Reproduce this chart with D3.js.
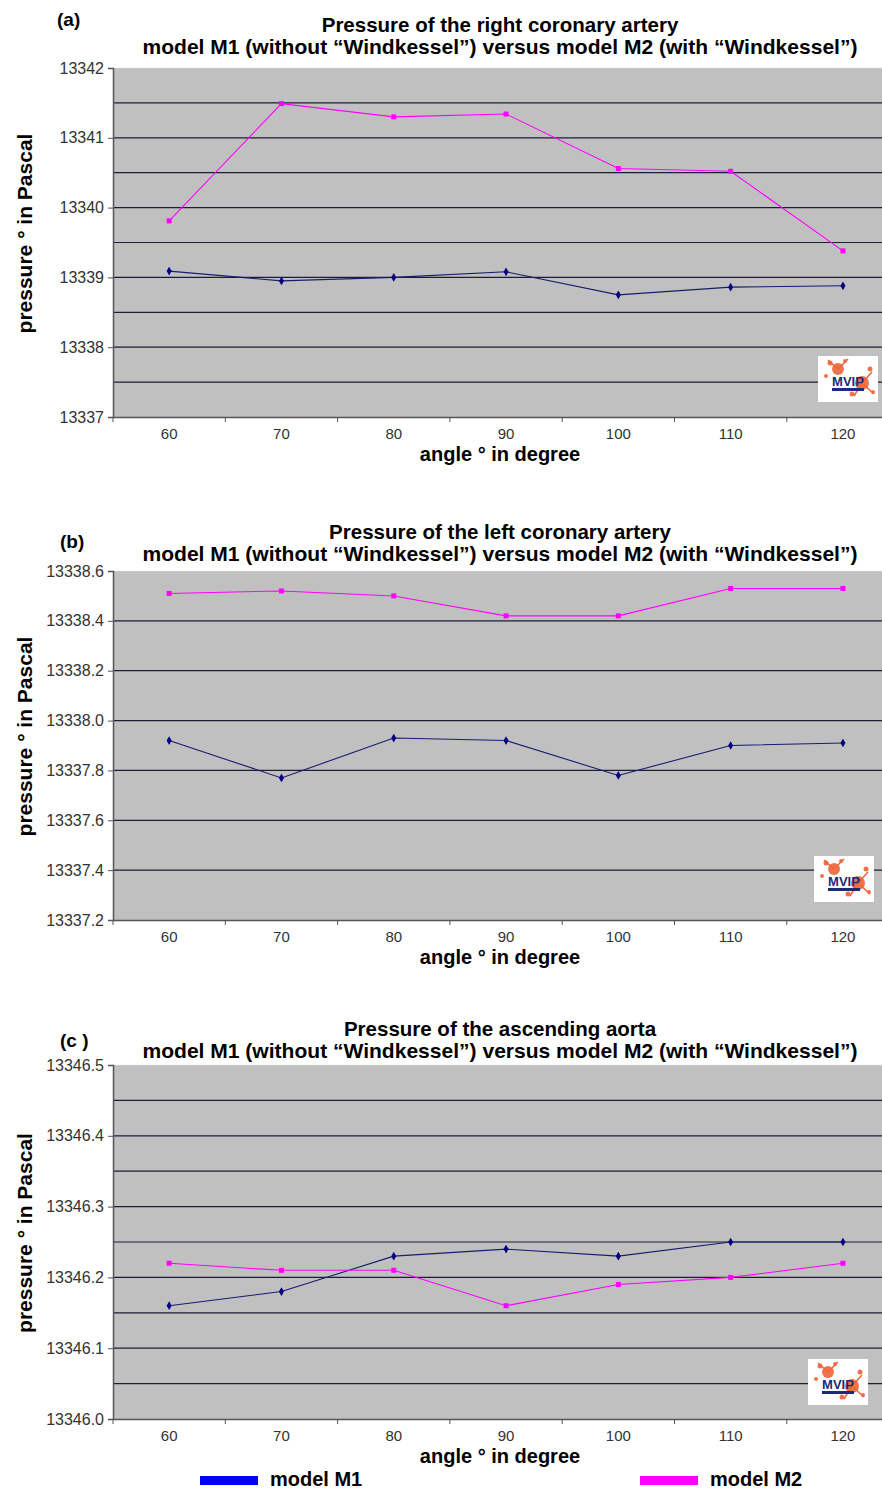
<!DOCTYPE html>
<html>
<head>
<meta charset="utf-8">
<script src="https://cdn.jsdelivr.net/npm/d3@7"></script>
<style>
  body { margin: 0; background: #fff; }
  svg { display: block; font-family: "Liberation Sans", Arial, sans-serif; }
</style>
</head>
<body>
<div id="chart"></div>
<script>
// angles on the category axis
const angles = ["60", "70", "80", "90", "100", "110", "120"];

// (a) right coronary artery
const rightM1 = [13339.09, 13338.95, 13339.00, 13339.08, 13338.75, 13338.86, 13338.88];
const rightM2 = [13339.81, 13341.49, 13341.30, 13341.34, 13340.56, 13340.52, 13339.38];

// (b) left coronary artery
const leftM1 = [13337.92, 13337.77, 13337.93, 13337.92, 13337.78, 13337.90, 13337.91];
const leftM2 = [13338.51, 13338.52, 13338.50, 13338.42, 13338.42, 13338.53, 13338.53];

// (c) ascending aorta
const aortaM1 = [13346.16, 13346.18, 13346.23, 13346.24, 13346.23, 13346.25, 13346.25];
const aortaM2 = [13346.22, 13346.21, 13346.21, 13346.16, 13346.19, 13346.20, 13346.22];

const rightTicks = [13337, 13338, 13339, 13340, 13341, 13342];
const leftTicks = [13337.2, 13337.4, 13337.6, 13337.8, 13338.0, 13338.2, 13338.4, 13338.6];
const aortaTicks = [13346.0, 13346.1, 13346.2, 13346.3, 13346.4, 13346.5];

const subtitle = "model M1 (without \u201cWindkessel\u201d) versus model M2 (with \u201cWindkessel\u201d)";

const width = 882, height = 1489;
const svg = d3.select("#chart").append("svg")
    .attr("width", width)
    .attr("height", height);

const left = 113, bandW = 112.3;
const x = d3.scaleBand().domain(angles).range([left, left + bandW * angles.length]);

function drawPanel(p) {
    const g = svg.append("g");
    const y = d3.scaleLinear().domain(p.domain).range([p.bottom, p.top]);
    const plotRight = width;

    // letter and titles
    g.append("text").attr("x", p.letterX).attr("y", p.letterY)
        .attr("font-size", 19).attr("font-weight", "bold").text(p.letter);
    g.append("text").attr("x", 500).attr("y", p.titleY)
        .attr("text-anchor", "middle").attr("font-size", 20.5).attr("font-weight", "bold")
        .text(p.title);
    g.append("text").attr("x", 500).attr("y", p.titleY + 22)
        .attr("text-anchor", "middle").attr("font-size", 20.5).attr("font-weight", "bold")
        .attr("textLength", 715).attr("lengthAdjust", "spacingAndGlyphs")
        .text(subtitle);

    // plot background
    g.append("rect").attr("x", left).attr("y", p.top)
        .attr("width", plotRight - left).attr("height", p.bottom - p.top)
        .attr("fill", "#c0c0c0");
    g.append("line").attr("x1", left).attr("x2", plotRight)
        .attr("y1", p.top).attr("y2", p.top)
        .attr("stroke", "#e6e6e6").attr("stroke-dasharray", "2,2");

    // gridlines
    g.selectAll(".grid").data(p.grid).enter().append("line")
        .attr("x1", left).attr("x2", plotRight)
        .attr("y1", d => y(d)).attr("y2", d => y(d))
        .attr("stroke", "#1c1c38").attr("stroke-width", 1.2);

    // axes
    const yAxis = d3.axisLeft(y).tickValues(p.ticks).tickSize(5).tickPadding(4)
        .tickFormat(d3.format(p.fmt));
    const ya = g.append("g").attr("transform", `translate(${left},0)`).call(yAxis);
    ya.select(".domain").attr("stroke", "#555").attr("stroke-width", 1.5);
    ya.selectAll(".tick line").attr("stroke", "#555");
    ya.selectAll("text").attr("font-size", 16).attr("fill", "#333")
        .attr("font-family", "'Liberation Sans', Arial, sans-serif");

    const xAxis = d3.axisBottom(x).tickSize(0).tickPadding(11);
    const xa = g.append("g").attr("transform", `translate(0,${p.bottom})`).call(xAxis);
    xa.select(".domain").attr("stroke", "#555").attr("stroke-width", 1.5);
    xa.selectAll("text").attr("font-size", 15).attr("fill", "#333")
        .attr("font-family", "'Liberation Sans', Arial, sans-serif");
    g.selectAll(".xt").data(d3.range(angles.length)).enter().append("line")
        .attr("x1", i => left + bandW * i).attr("x2", i => left + bandW * i)
        .attr("y1", p.bottom).attr("y2", p.bottom + 5)
        .attr("stroke", "#555");

    // axis titles
    g.append("text").attr("x", 500).attr("y", p.bottom + 44)
        .attr("text-anchor", "middle").attr("font-size", 20).attr("font-weight", "bold")
        .text("angle \u00b0 in degree");
    const cy = (p.top + p.bottom) / 2 - 9;
    g.append("text").attr("transform", `translate(32,${cy}) rotate(-90)`)
        .attr("text-anchor", "middle").attr("font-size", 21).attr("font-weight", "bold")
        .text("pressure \u00b0 in Pascal");

    // series
    const cx = i => x(angles[i]) + x.bandwidth() / 2;
    const line = d3.line().x((d, i) => cx(i)).y(d => y(d));
    g.append("path").datum(p.m1).attr("d", line)
        .attr("fill", "none").attr("stroke", "#1a1a70").attr("stroke-width", 1.1);
    g.append("path").datum(p.m2).attr("d", line)
        .attr("fill", "none").attr("stroke", "#ff00ff").attr("stroke-width", 1.1);
    g.selectAll(".m1").data(p.m1).enter().append("path")
        .attr("d", d3.symbol(d3.symbolDiamond, 22))
        .attr("transform", (d, i) => `translate(${cx(i)},${y(d)})`)
        .attr("fill", "#000080");
    g.selectAll(".m2").data(p.m2).enter().append("rect")
        .attr("x", (d, i) => cx(i) - 2.5).attr("y", d => y(d) - 2.5)
        .attr("width", 5).attr("height", 5).attr("fill", "#ff00ff");

    // logo
    const lg = g.append("g").attr("transform", `translate(${p.logoX},${p.logoY})`);
    lg.append("rect").attr("width", 60).attr("height", 46).attr("fill", "#fff");
    const splat = [[20, 13, 6], [44, 27, 7], [12, 7, 2.5], [27, 5, 2], [52, 13, 2.5],
                   [34, 38, 2.5], [8, 20, 2], [55, 36, 2]];
    lg.selectAll("circle").data(splat).enter().append("circle")
        .attr("cx", d => d[0]).attr("cy", d => d[1]).attr("r", d => d[2])
        .attr("fill", "#f0643a").attr("opacity", 0.9);
    lg.append("path").attr("d", "M20,13 L10,4 M20,13 L30,3 M44,27 L54,16 M44,27 L56,38 M44,27 L36,40")
        .attr("stroke", "#f0643a").attr("stroke-width", 1.5);
    lg.append("text").attr("x", 30).attr("y", 30).attr("text-anchor", "middle")
        .attr("font-size", 13).attr("font-weight", "bold").attr("fill", "#1b2a7a")
        .text("MVIP");
    lg.append("rect").attr("x", 14).attr("y", 32).attr("width", 32).attr("height", 3)
        .attr("fill", "#1b2a7a");
}

drawPanel({
    letter: "(a)", letterX: 57, letterY: 26, titleY: 32, title: "Pressure of the right coronary artery",
    top: 68, bottom: 417, domain: [13337, 13342], ticks: rightTicks, fmt: "d",
    grid: d3.range(13337.5, 13342, 0.5), m1: rightM1, m2: rightM2,
    logoX: 818, logoY: 356
});

drawPanel({
    letter: "(b)", letterX: 60, letterY: 548, titleY: 539, title: "Pressure of the left coronary artery",
    top: 571, bottom: 920, domain: [13337.2, 13338.6], ticks: leftTicks, fmt: ".1f",
    grid: leftTicks.slice(1, -1), m1: leftM1, m2: leftM2,
    logoX: 814, logoY: 856
});

drawPanel({
    letter: "(c )", letterX: 60, letterY: 1047, titleY: 1036, title: "Pressure of the ascending aorta",
    top: 1065, bottom: 1419, domain: [13346.0, 13346.5], ticks: aortaTicks, fmt: ".1f",
    grid: d3.range(1, 10).map(k => 13346 + k * 0.05), m1: aortaM1, m2: aortaM2,
    logoX: 808, logoY: 1359
});

// legend
const legend = svg.append("g");
const legendItems = [
    { name: "model M1", color: "#0000ff", x: 200 },
    { name: "model M2", color: "#ff00ff", x: 640 }
];
legend.selectAll("rect").data(legendItems).enter().append("rect")
    .attr("x", d => d.x).attr("y", 1476).attr("width", 58).attr("height", 9)
    .attr("fill", d => d.color);
legend.selectAll("text").data(legendItems).enter().append("text")
    .attr("x", d => d.x + 70).attr("y", 1486)
    .attr("font-size", 20).attr("font-weight", "bold")
    .text(d => d.name);
</script>
</body>
</html>
